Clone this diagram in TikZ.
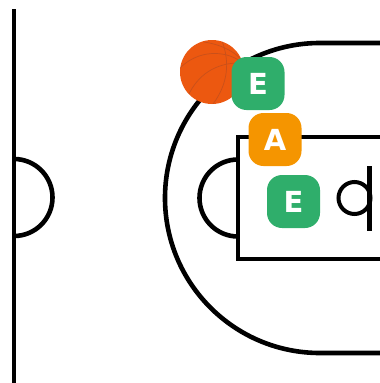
\documentclass[tikz,border=0pt]{standalone}
\usepackage{fontspec}
\setmainfont{DejaVu Sans}
\usepackage{xcolor}
\definecolor{CourtLine}{HTML}{000000}
\definecolor{PlayerGreen}{HTML}{2FAE6B}
\definecolor{PlayerOrange}{HTML}{F59500}
\definecolor{BallFill}{HTML}{EC5810}
\definecolor{BallSeam}{HTML}{C9501A}
\tikzset{
	courtline/.style={draw=CourtLine, line width=4.6pt},
	player/.style={rounded corners=15pt, minimum size=53pt, inner sep=0pt, text=white, font=\fontsize{29}{29}\selectfont\bfseries},
	seam/.style={draw=BallSeam, line width=0.7pt},
}
\begin{document}
\begin{tikzpicture}[x=1pt, y=-1pt]
		\useasboundingbox (0,0) rectangle (380,383);
		% Court lines
		\coordinate (baseTop) at (14,9);
		\coordinate (baseEnd) at (14,383);
		\coordinate (arcTop) at (320,43);
		\coordinate (arcBottom) at (380,353);
		\coordinate (keyTop) at (380,137);
		\coordinate (keyBottom) at (380,259);
		\draw[courtline] (baseTop) -- (baseEnd);
		\draw[courtline] (14,159) arc[start angle=90, end angle=-90, radius=38.5pt];
		\draw[courtline] (380,43) -- (arcTop) arc[start angle=90, end angle=270, radius=155pt] -- (arcBottom);
		\draw[courtline] (keyTop) -- (238,137) -- (238,259) -- (keyBottom);
		\draw[courtline] (238,159.5) arc[start angle=90, end angle=270, radius=38.5pt];
		% Hoop
		\node[circle, draw=CourtLine, line width=4pt, minimum size=32pt, inner sep=0pt] (hoop) at (354.5,198) {};
		\coordinate (boardTop) at (369.5,166);
		\coordinate (boardBottom) at (369.5,231);
		\draw[courtline] (boardTop) -- (boardBottom);
		% Ball
		\node[circle, fill=BallFill, minimum size=64pt, inner sep=0pt] (ball) at (212,72) {};
		\begin{scope}[shift={(ball.center)}]
			\clip (0,0) circle (32pt);
			\draw[seam] (-8,-30) .. controls (12,-27) and (26,-18) .. (31,-10);
			\draw[seam] (-32,-4) .. controls (-14,-22) and (12,-22) .. (28,-11);
			\draw[seam] (10,-31) .. controls (18,-10) and (16,12) .. (1,32);
			\draw[seam] (-24,24) .. controls (-14,2) and (4,-8) .. (24,-9);
		\end{scope}
		% Players
		\node[player, fill=PlayerGreen] (guard) at (258,83.5) {E};
		\node[player, fill=PlayerOrange] (wing) at (275,139.5) {A};
		\node[player, fill=PlayerGreen] (post) at (293.5,201.5) {E};
	\end{tikzpicture}
\end{document}
